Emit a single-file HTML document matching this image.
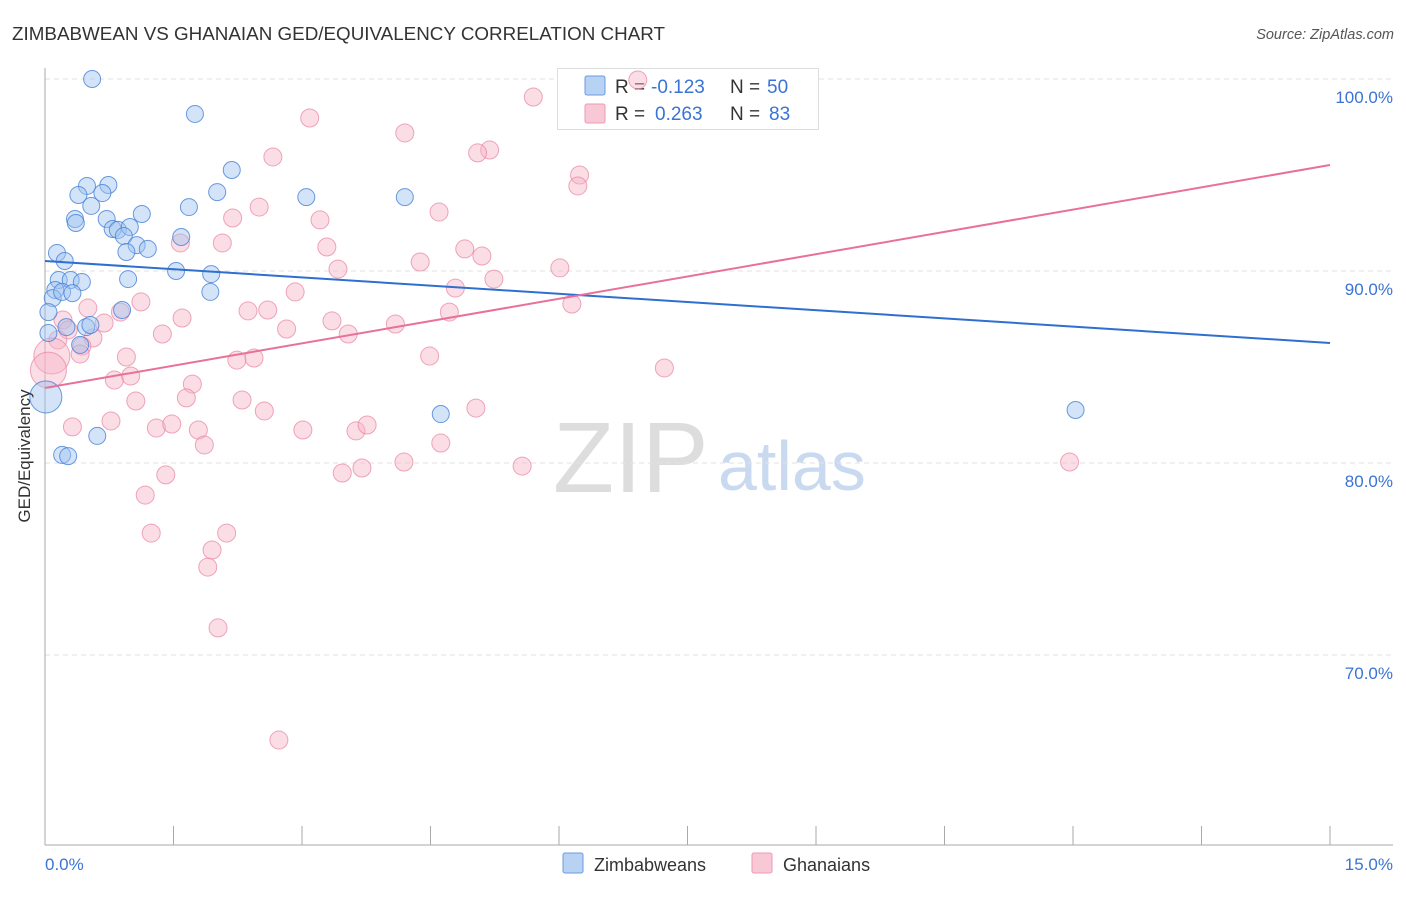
<!DOCTYPE html>
<html><head><meta charset="utf-8"><style>
body{margin:0;background:#fff;font-family:"Liberation Sans",sans-serif;}
svg text{font-family:"Liberation Sans",sans-serif;}
</style></head><body>
<svg id="chart" width="1406" height="892" viewBox="0 0 1406 892">
<text x="12" y="40" font-size="18" textLength="653" lengthAdjust="spacingAndGlyphs" fill="#333">ZIMBABWEAN VS GHANAIAN GED/EQUIVALENCY CORRELATION CHART</text>
<text x="1394" y="39" font-size="14.5" fill="#555" font-style="italic" text-anchor="end">Source: ZipAtlas.com</text>
<g>
<text x="553" y="492" font-size="100" fill="#ddd" font-family="Liberation Serif,serif">ZIP</text>
<text x="718" y="490" font-size="70" fill="#c9daf0">atlas</text>
</g>
<g id="grid"></g><g id="axes"></g>
<g>
<rect x="557.5" y="68.5" width="261" height="61" fill="#fff" stroke="#ddd"/>
<rect x="585" y="76" width="20" height="19" fill="#b8d2f4" stroke="#6a9be0" rx="2"/>
<rect x="585" y="104" width="20" height="19" fill="#f9c8d6" stroke="#ee9ab4" rx="2"/>
<text x="615" y="93" font-size="19" fill="#333">R =</text>
<text x="651" y="93" font-size="19" fill="#3a74d4">-0.123</text>
<text x="730" y="93" font-size="19" fill="#333">N =</text>
<text x="767" y="93" font-size="19" fill="#3a74d4">50</text>
<text x="615" y="120" font-size="19" fill="#333">R =</text>
<text x="655" y="120" font-size="19" fill="#3a74d4">0.263</text>
<text x="730" y="120" font-size="19" fill="#333">N =</text>
<text x="769" y="120" font-size="19" fill="#3a74d4">83</text>
</g>
<g id="marks"></g><g id="trends"></g>
<text x="30" y="456" font-size="17" fill="#333" text-anchor="middle" transform="rotate(-90 30 456)">GED/Equivalency</text>
<text x="45" y="870" font-size="17" fill="#3a74d4">0.0%</text>
<text x="1393" y="870" font-size="17" fill="#3a74d4" text-anchor="end">15.0%</text>
<g>
<rect x="563" y="853" width="20" height="20" fill="#b8d2f4" stroke="#6a9be0" rx="2"/>
<text x="594" y="871" font-size="18" fill="#333">Zimbabweans</text>
<rect x="752" y="853" width="20" height="20" fill="#f9c8d6" stroke="#ee9ab4" rx="2"/>
<text x="783" y="871" font-size="18" fill="#333">Ghanaians</text>
</g>
</svg>
<script>
const yTicks=[100,90,80,70];
const yTickLabels=["100.0%","90.0%","80.0%","70.0%"];
const xTicks=[0,1.5,3,4.5,6,7.5,9,10.5,12,13.5,15];
const zimX=[0.55,1.75,2.18,0.49,0.74,0.39,0.67,2.01,3.05,4.20,0.54,1.68,0.35,0.72,1.13,0.36,0.79,0.85,0.99,0.92,1.07,1.59,1.20,0.95,0.14,0.23,1.53,1.94,0.16,0.30,0.43,0.97,0.12,0.09,0.20,0.32,1.93,0.04,0.90,0.25,0.48,0.53,0.04,0.41,0.01,4.62,0.61,0.20,0.27,12.03];
const zimY=[100.0,98.18,95.26,94.43,94.48,93.96,94.06,94.11,93.85,93.85,93.39,93.33,92.71,92.71,92.97,92.50,92.19,92.14,92.29,91.82,91.35,91.77,91.15,90.99,90.94,90.52,90.00,89.84,89.53,89.53,89.43,89.58,89.01,88.59,88.91,88.85,88.91,87.86,87.97,87.08,87.08,87.19,86.77,86.15,83.44,82.55,81.41,80.42,80.36,82.76];
const zimBig=[44];
const ghaX=[6.92,5.70,3.09,4.20,5.19,5.05,2.66,6.24,6.22,2.50,4.60,2.19,3.21,1.58,2.07,3.29,4.90,5.10,4.38,3.42,6.01,5.24,4.79,2.92,1.12,0.50,2.60,0.88,2.37,4.72,6.15,1.60,3.35,4.09,2.82,0.21,0.69,3.54,1.37,0.27,0.56,0.15,0.43,0.41,0.08,0.95,2.24,2.44,4.49,0.04,7.23,0.81,1.00,1.72,1.65,1.06,2.30,2.56,5.03,0.77,1.30,1.48,0.32,1.79,3.01,3.63,3.76,1.86,4.62,4.19,5.57,11.96,3.47,3.70,1.41,1.17,1.24,2.12,1.95,1.90,2.02,2.73];
const ghaY=[99.95,99.06,97.97,97.19,96.30,96.15,95.94,95.00,94.43,93.33,93.07,92.76,92.66,91.46,91.46,91.25,91.15,90.78,90.47,90.10,90.16,89.58,89.11,88.91,88.39,88.07,87.97,87.86,87.92,87.86,88.28,87.55,87.40,87.24,86.98,87.45,87.29,86.72,86.72,86.93,86.51,86.41,86.09,85.68,85.57,85.52,85.36,85.47,85.57,84.84,84.95,84.32,84.53,84.11,83.39,83.23,83.28,82.71,82.86,82.19,81.82,82.03,81.88,81.72,81.72,81.67,81.98,80.94,81.04,80.05,79.84,80.05,79.48,79.74,79.38,78.33,76.35,76.35,75.47,74.58,71.41,65.57];
const ghaBig=[44,49];
const zimTrend=[90.52,86.25];
const ghaTrend=[83.91,95.52];
const NS="http://www.w3.org/2000/svg";
const xs=v=>45+v/15*1285;
const ys=v=>79+(100-v)*19.2;
function mk(tag,attrs,parent){const e=document.createElementNS(NS,tag);for(const k in attrs)e.setAttribute(k,attrs[k]);document.getElementById(parent).appendChild(e);return e;}
yTicks.forEach((t,i)=>{
 const l=mk('line',{x1:45,x2:1393,y1:ys(t),y2:ys(t),stroke:'#e2e2e2','stroke-dasharray':'5,4'},'grid');
 
 
 const tx=mk('text',{x:1393,y:ys(t)+24,'font-size':17,fill:'#3a74d4','text-anchor':'end'},'grid');
 tx.textContent=yTickLabels[i];
 
 
});
const ax=mk('line',{x1:45,x2:45,y1:68,y2:845,stroke:'#aaa'},'axes');


const bx=mk('line',{x1:45,x2:1393,y1:845,y2:845,stroke:'#aaa'},'axes');


xTicks.forEach(t=>{
 const l=mk('line',{x1:xs(t),x2:xs(t),y1:826,y2:845,stroke:'#aaa'},'axes');
 
 
});
ghaX.forEach((v,i)=>{
 const big=ghaBig.includes(i);
 const c=mk('circle',{cx:xs(v),cy:ys(ghaY[i]),r:big?18:9,fill:'rgba(247,180,200,0.45)',stroke:'rgba(232,130,160,0.7)','stroke-width':1},'marks');
 
 
});
zimX.forEach((v,i)=>{
 const big=zimBig.includes(i);
 const c=mk('circle',{cx:xs(v),cy:ys(zimY[i]),r:big?16:8.5,fill:'rgba(160,195,240,0.45)',stroke:'rgba(70,130,215,0.8)','stroke-width':1},'marks');
 
 
});
const t1=mk('line',{x1:xs(0),x2:xs(15),y1:ys(zimTrend[0]),y2:ys(zimTrend[1]),stroke:'#2f6fd0','stroke-width':2},'trends');


const t2=mk('line',{x1:xs(0),x2:xs(15),y1:ys(ghaTrend[0]),y2:ys(ghaTrend[1]),stroke:'#e8709a','stroke-width':2},'trends');


</script>
</body></html>
